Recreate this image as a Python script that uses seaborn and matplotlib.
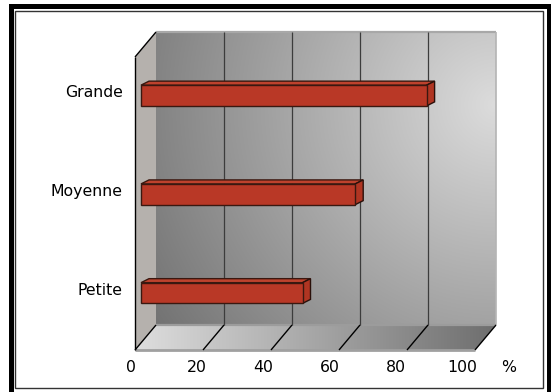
import numpy as np
import pandas as pd
import matplotlib
matplotlib.use("Agg")
import matplotlib.pyplot as plt
from matplotlib.patches import Polygon, Rectangle
from matplotlib.transforms import ScaledTranslation
import seaborn as sns

# Share of respondents by company size (%)
categories = ["Grande", "Moyenne", "Petite"]
values = [84, 63, 47.5]
tick_values = [0, 20, 40, 60, 80, 100]
unit_label = "%"

sns.set_theme(style="white")
plt.rcParams["font.family"] = ["DejaVu Sans"]
FS = 11.3

DPI = 100
W, H = 551, 392
fig = plt.figure(figsize=(W / DPI, H / DPI), dpi=DPI)
fig.patch.set_facecolor("white")

# Plot area = plane through the front faces of the bars
ax = fig.add_axes([141 / W, (H - 343) / H, 340 / W, 293 / H])
df = pd.DataFrame({"cat": categories, "val": values})
sns.barplot(data=df, x="val", y="cat", orient="h", color="#B93826",
            saturation=1, width=0.21, edgecolor="#3a1810", linewidth=1.0,
            ax=ax, zorder=5)
XLIM = (0, 100)
YLIM = (2.506, -0.461)
ax.set_xlim(*XLIM)
ax.set_ylim(*YLIM)
ax.set_autoscale_on(False)
ax.set_facecolor("none")
for s in ax.spines.values():
    s.set_visible(False)
ax.set_xlabel("")
ax.set_ylabel("")
ax.set_xticks([])
ax.tick_params(axis="y", length=0, pad=13, labelsize=FS, labelcolor="black")
lift = ScaledTranslation(0, 3 / 72, fig.dpi_scale_trans)
for lab in ax.get_yticklabels():
    lab.set_transform(lab.get_transform() + lift)

# depth offsets in display pixels (x right, y up)
FRONT = (-6, -7)
BACK = (15, 18)
BAR_DEPTH = (8, 4)


def shift(x, y, d):
    p = ax.transData.transform((x, y))
    return ax.transData.inverted().transform((p[0] + d[0], p[1] + d[1]))


def seg(p, q, **kw):
    ax.plot([p[0], q[0]], [p[1], q[1]], clip_on=False,
            solid_capstyle="butt", **kw)


y_top, y_floor = YLIM[1], YLIM[0]

# back wall with radial shading
bl = shift(0, y_floor, BACK)
tr = shift(100, y_top, BACK)
nx, ny = 200, 180
u = np.linspace(0, 1, nx)[None, :]
v = np.linspace(0, 1, ny)[:, None]
d = np.sqrt((u - 1.0) ** 2 + ((v - 0.25) * 0.87) ** 2)
g = np.clip(220 - 88 * d, 95, 225) / 255.0
wall = ax.imshow(np.dstack([g, g, g]), extent=(bl[0], tr[0], bl[1], tr[1]),
                 origin="upper", aspect="auto", interpolation="bilinear",
                 zorder=0)
wall.set_clip_on(False)

# floor with horizontal shading
f0 = shift(0, y_floor, FRONT)
f1 = shift(100, y_floor, FRONT)
b0 = shift(0, y_floor, BACK)
b1 = shift(100, y_floor, BACK)
floor_poly = Polygon([f0, f1, b1, b0], closed=True, facecolor="none",
                     edgecolor="none", clip_on=False)
ax.add_patch(floor_poly)
uf = np.linspace(0, 1, 300)[None, :]
gf = (222 - 112 * uf) / 255.0
gf = np.repeat(gf, 20, axis=0)
fimg = ax.imshow(np.dstack([gf, gf, gf]),
                 extent=(f0[0], b1[0], f0[1], b1[1]), origin="upper",
                 aspect="auto", interpolation="bilinear", zorder=0.5)
fimg.set_clip_box(fig.bbox)
fimg.set_clip_path(floor_poly)

# left side wall
s_ft = shift(0, y_top, FRONT)
s_bt = shift(0, y_top, BACK)
s_bb = shift(0, y_floor, BACK)
s_fb = shift(0, y_floor, FRONT)
ax.add_patch(Polygon([s_ft, s_bt, s_bb, s_fb], closed=True,
                     facecolor="#b5b1ad", edgecolor="none", zorder=1,
                     clip_on=False))

# wall borders
seg(s_bt, tr, color="#a8a8a8", lw=1.6, zorder=1.2)
seg(tr, (tr[0], bl[1]), color="#b4b4b4", lw=1.2, zorder=1.2)
seg(b0, b1, color="#9c9c9c", lw=1.6, zorder=1.2)
seg(f0, f1, color="#a0a0a0", lw=2.0, zorder=1.2)

# gridlines on the back wall
for t in tick_values[1:-1]:
    seg(shift(t, y_top, BACK), shift(t, y_floor, BACK), color="#3c3c3c",
        lw=0.9, zorder=1.5)

# diagonal gridlines on the floor
for t in tick_values:
    seg(shift(t, y_floor, FRONT), shift(t, y_floor, BACK), color="black",
        lw=1.0, zorder=1.6)

# side wall outline
seg(s_ft, s_fb, color="black", lw=1.0, zorder=1.6)
seg(s_ft, s_bt, color="black", lw=1.0, zorder=1.6)

# 3D top and end faces of the bars
for bar in list(ax.patches):
    if not isinstance(bar, Rectangle) or bar.get_width() <= 0:
        continue
    bar.set_clip_on(False)
    x0 = bar.get_x()
    x1 = x0 + bar.get_width()
    ya = bar.get_y()
    yb = ya + bar.get_height()
    yt, yl = min(ya, yb), max(ya, yb)  # visual top / bottom (inverted axis)
    top = [(x0, yt), (x1, yt), shift(x1, yt, BAR_DEPTH), shift(x0, yt, BAR_DEPTH)]
    ax.add_patch(Polygon(top, closed=True, facecolor="#BE422D",
                         edgecolor="#3a1810", lw=1.0, zorder=4, clip_on=False))
    cap = [(x1, yt), shift(x1, yt, BAR_DEPTH), shift(x1, yl, BAR_DEPTH), (x1, yl)]
    ax.add_patch(Polygon(cap, closed=True, facecolor="#B03522",
                         edgecolor="#2a100a", lw=1.0, zorder=4, clip_on=False))

# value axis labels along the front of the floor
lax = fig.add_axes([131 / W, (H - 376) / H, 331.25 / W, 16 / H])
lax.set_xlim(0, 100)
lax.set_ylim(0, 1)
lax.axis("off")
for t in tick_values:
    lax.text(t, 0.5, str(t), ha="center", va="center", fontsize=FS,
             color="black")
lax.text(114.1, 0.5, unit_label, ha="center", va="center", fontsize=FS,
         color="black")

# double page border
fig.add_artist(Rectangle((10.5 / W, -0.05), 538 / W, (H - 5.5) / H + 0.05,
                         transform=fig.transFigure, fill=False,
                         edgecolor="black", lw=3.6))
fig.add_artist(Rectangle((14.5 / W, (H - 387.5) / H), 528 / W, 377 / H,
                         transform=fig.transFigure, fill=False,
                         edgecolor="#333333", lw=1.0))

fig.savefig("out.png", dpi=DPI)
